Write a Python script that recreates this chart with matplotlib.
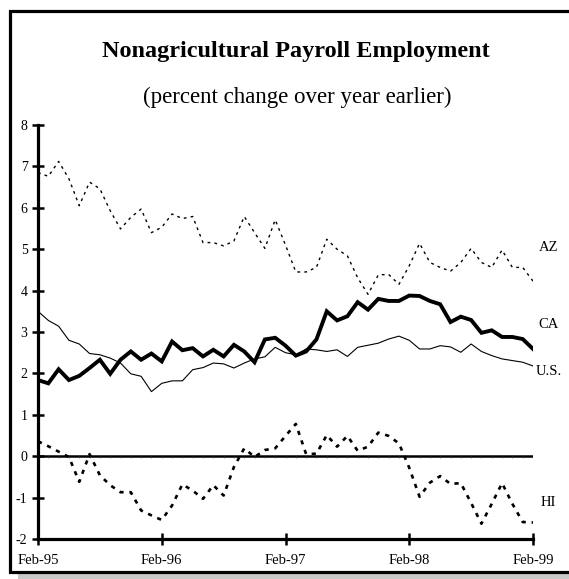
import numpy as np
import matplotlib
matplotlib.use("Agg")
import matplotlib.pyplot as plt
from matplotlib.patches import Rectangle

plt.rcParams["font.family"] = ["Liberation Serif", "DejaVu Serif"]
plt.rcParams["axes.unicode_minus"] = False

# monthly, Feb-95 .. Feb-99
months = np.arange(49)
tick_pos = [0, 12, 24, 36, 48]
tick_labels = ["Feb-95", "Feb-96", "Feb-97", "Feb-98", "Feb-99"]

az = [6.85, 6.76, 7.12, 6.70, 6.05, 6.62, 6.46, 5.93, 5.49, 5.77,
      5.97, 5.40, 5.53, 5.85, 5.74, 5.79, 5.16, 5.16, 5.08, 5.20,
      5.79, 5.40, 5.02, 5.71, 5.10, 4.45, 4.45, 4.56, 5.24, 5.00,
      4.84, 4.31, 3.91, 4.38, 4.39, 4.15, 4.60, 5.14, 4.68, 4.56,
      4.47, 4.68, 5.02, 4.68, 4.56, 4.98, 4.56, 4.56, 4.23]
ca = [1.84, 1.76, 2.10, 1.84, 1.94, 2.13, 2.33, 1.99, 2.33, 2.53,
      2.33, 2.48, 2.29, 2.77, 2.56, 2.61, 2.41, 2.57, 2.41, 2.69,
      2.53, 2.27, 2.82, 2.86, 2.67, 2.43, 2.53, 2.82, 3.50, 3.28,
      3.38, 3.72, 3.54, 3.80, 3.75, 3.75, 3.88, 3.87, 3.75, 3.67,
      3.24, 3.37, 3.29, 2.98, 3.04, 2.88, 2.88, 2.83, 2.59]
us = [3.50, 3.28, 3.14, 2.80, 2.71, 2.48, 2.45, 2.37, 2.25, 1.99,
      1.93, 1.56, 1.76, 1.82, 1.82, 2.09, 2.14, 2.25, 2.23, 2.13,
      2.25, 2.35, 2.40, 2.63, 2.50, 2.45, 2.59, 2.57, 2.53, 2.57,
      2.41, 2.63, 2.68, 2.73, 2.83, 2.90, 2.80, 2.59, 2.59, 2.67,
      2.64, 2.51, 2.71, 2.53, 2.43, 2.35, 2.31, 2.27, 2.18]
hi = [0.36, 0.24, 0.11, -0.02, -0.62, 0.05, -0.46, -0.70, -0.87, -0.87,
      -1.31, -1.43, -1.54, -1.19, -0.68, -0.83, -1.03, -0.70, -0.95, -0.26,
      0.19, -0.02, 0.15, 0.19, 0.49, 0.78, 0.05, 0.06, 0.51, 0.23,
      0.49, 0.13, 0.23, 0.57, 0.49, 0.31, -0.28, -0.98, -0.64, -0.48,
      -0.67, -0.65, -1.13, -1.63, -1.15, -0.65, -1.15, -1.59, -1.60]

fig = plt.figure(figsize=(5.69, 5.79), dpi=100)
W, H = 569.0, 579.0

# boxed frame with grey drop shadow
fig.patches.append(Rectangle((18 / W, -10 / H), 1.2, 1 - 19 / H + 10 / H,
                             transform=fig.transFigure, facecolor="#c8c8c8",
                             edgecolor="none", zorder=0))
fig.patches.append(Rectangle((10 / W, 7 / H), 1.2, 1 - 18 / H,
                             transform=fig.transFigure, facecolor="white",
                             edgecolor="black", linewidth=2.3, zorder=1))

ax = fig.add_axes([38 / W, 40 / H, (533 - 38) / W, (539 - 125) / H])
ax.set_zorder(2)
ax.set_facecolor("none")

ax.plot(months, az, color="black", lw=1.0, linestyle=(0, (2, 3)))
ax.plot(months, us, color="black", lw=0.8)
ax.plot(months, ca, color="black", lw=2.8, solid_joinstyle="miter")
ax.plot(months, hi, color="black", lw=1.9, linestyle=(0, (1.6, 2.2)))

ax.axhline(0, color="black", lw=1.8)
ax.vlines(months, -0.05, 0, color="#444444", lw=0.4)

ax.set_xlim(0, 48)
ax.set_ylim(-2, 8)
ax.set_xticks(tick_pos)
ax.set_xticklabels(tick_labels)
ax.set_yticks(np.arange(-2, 9, 1))
ax.tick_params(axis="both", direction="inout", length=8, width=1.8,
               labelsize=10.5, colors="black")
ax.tick_params(axis="y", pad=3.5, labelsize=10)
ax.tick_params(axis="x", pad=7)
for s in ["top", "right"]:
    ax.spines[s].set_visible(False)
ax.spines["left"].set_linewidth(2.3)
ax.spines["bottom"].set_linewidth(2.3)

ax.text(49.5, 5.05, "AZ", fontsize=10.5, ha="center", va="center", clip_on=False)
ax.text(49.5, 3.18, "CA", fontsize=10.5, ha="center", va="center", clip_on=False)
ax.text(49.5, 2.04, "U.S.", fontsize=10.5, ha="center", va="center", clip_on=False)
ax.text(49.5, -1.12, "HI", fontsize=10.5, ha="center", va="center", clip_on=False)

fig.text(296 / W, 1 - 52 / H, "Nonagricultural Payroll Employment",
         fontsize=17.5, fontweight="bold", ha="center", va="center")
fig.text(297 / W, 1 - 97 / H, "(percent change over year earlier)",
         fontsize=16.5, ha="center", va="center")

plt.savefig("out.png", dpi=100)
plt.close()
